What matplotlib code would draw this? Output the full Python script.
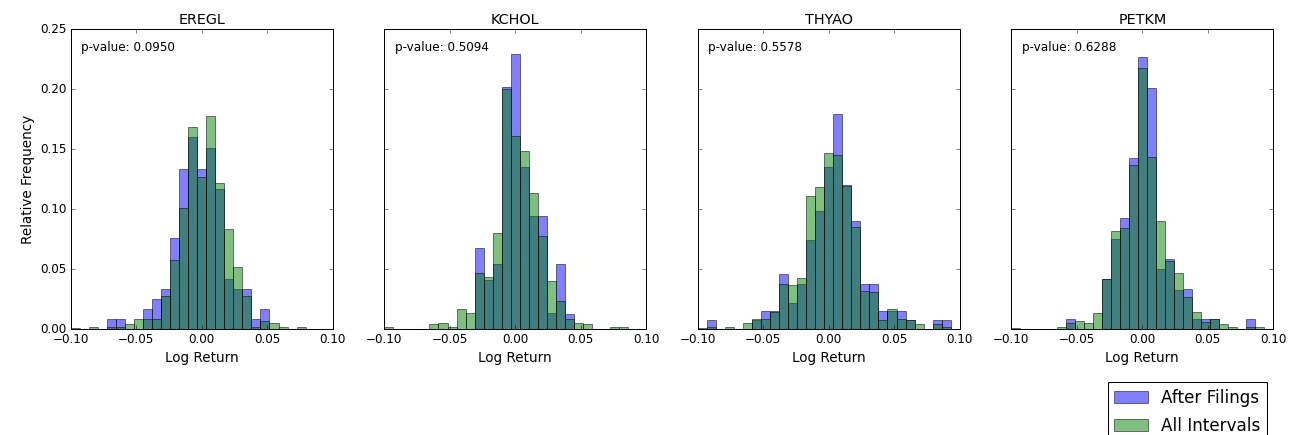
import numpy as np
import matplotlib
matplotlib.use('Agg')
import matplotlib.pyplot as plt

# 29 shared bins on [-0.1, 0.1]
bin_edges = np.linspace(-0.1, 0.1, 30)
bin_mid = (bin_edges[:-1] + bin_edges[1:]) / 2

tickers = ['EREGL', 'KCHOL', 'THYAO', 'PETKM']
p_values = [0.0950, 0.5094, 0.5578, 0.6288]

# relative frequency per bin, "After Filings"
after_eregl = [0, 0, 0, 0, .0086, .0086, 0, 0, .0166, .0255, .0335, .0758, .134, .160, .134,
               .1508, .117, .0423, .0332, .0335, .0086, .0166, 0, 0, 0, 0, 0, 0, 0]
after_kchol = [0, 0, 0, 0, 0, 0, 0, 0, 0, 0, .0678, .041, .0545, .2023, .2291,
               .1356, .0946, .0946, .0133, .0545, .013, 0, 0, 0, 0, 0, 0, 0, 0]
after_thyao = [0, .0075, 0, 0, 0, 0, .0078, .0155, .0155, .0457, .0221, .0378, .0747, .0982, .135,
               .1796, .1204, .0899, .0374, .0374, .0155, .0155, .0155, .0078, 0, 0, .0078, .0078, 0]
after_petkm = [0, 0, 0, 0, 0, 0, .0086, 0, 0, 0, .0423, .0755, .0927, .143, .2269,
               .2014, .0504, .0589, .033, .0332, .0085, .0085, .0085, 0, 0, 0, .0086, 0, 0]

# relative frequency per bin, "All Intervals"
all_eregl = [.001, 0, .0022, 0, .0022, .0022, .0044, .0086, .0086, .0086, .0277, .0581, .1013, .169, .127,
             .178, .122, .0836, .0523, .0277, .0022, .0072, .005, .0022, 0, .0022, 0, 0, 0]
all_kchol = [.0022, 0, 0, 0, 0, .0042, .0055, .0022, .0166, .0133, .0465, .0432, .0805, .2003, .1608,
             .1486, .1137, .078, .0401, .0232, .0086, .0055, .0044, 0, 0, .002, .002, 0, 0]
all_thyao = [.001, .0022, 0, .0019, 0, .0052, .0083, .0083, .0144, .0374, .0368, .0424, .1107, .1184, .1472,
             .145, .1198, .0852, .0321, .0313, .0078, .0166, .0083, .0078, .0044, 0, .0044, .0019, 0]
all_petkm = [.001, 0, 0, 0, 0, .0022, .005, .0069, .0055, .0133, .0423, .0816, .0847, .1372, .218,
             .1433, .0902, .057, .0465, .0271, .0141, .0064, .0083, .0044, .0022, 0, .0022, .0022, 0]

after_all = [after_eregl, after_kchol, after_thyao, after_petkm]
all_all = [all_eregl, all_kchol, all_thyao, all_petkm]

plt.style.use('classic')
fig, axes = plt.subplots(1, 4, sharey=True, figsize=(1289 / 72, 435 / 72), dpi=72)
fig.patch.set_facecolor('white')
fig.subplots_adjust(left=0.0549, right=0.9878, bottom=0.243, top=0.9326, wspace=0.197)

for i, ax in enumerate(axes):
    ax.hist(bin_mid, bins=bin_edges, weights=after_all[i], color='b', alpha=0.5, label='After Filings')
    ax.hist(bin_mid, bins=bin_edges, weights=all_all[i], color='g', alpha=0.5, label='All Intervals')
    ax.set_xlim(-0.1, 0.1)
    ax.set_ylim(0, 0.25)
    ax.set_xticks([-0.1, -0.05, 0, 0.05, 0.1])
    ax.set_title(tickers[i], fontsize=14.4)
    ax.set_xlabel('Log Return', fontsize=13.5)
    ax.text(0.04, 0.94, 'p-value: %.4f' % p_values[i], transform=ax.transAxes,
            va='center', ha='left', fontsize=12)

axes[0].set_ylabel('Relative Frequency', fontsize=13.5)
axes[0].set_yticks([0, 0.05, 0.1, 0.15, 0.2, 0.25])

handles, labels = axes[3].get_legend_handles_labels()
fig.legend(handles, labels, loc='upper right', bbox_to_anchor=(0.983, 0.122), borderaxespad=0,
           fontsize=16.7, labelspacing=0.62)

fig.savefig('out.png', dpi=72, facecolor='white')
